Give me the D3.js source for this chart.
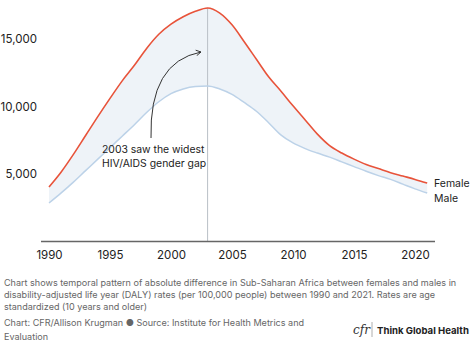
<!DOCTYPE html>
<html>
<head>
<meta charset="utf-8">
<script src="https://cdn.jsdelivr.net/npm/d3@7"></script>
<style>
  html, body { margin: 0; padding: 0; background: #fff; }
  svg { display: block; font-family: Inter, "Noto Sans", sans-serif; }
</style>
</head>
<body>
<svg id="chart" width="474" height="349"></svg>
<script>
const years = d3.range(1990, 2022);
const female = [4040, 5150, 6450, 7850, 9250, 10600, 11900, 13050, 14300, 15350,
  16100, 16650, 17050, 17300, 16920, 16050, 14800, 13500, 12200, 11150,
  10050, 9000, 7950, 7100, 6550, 6100, 5700, 5400, 5100, 4850, 4600, 4330];
const male = [2850, 3600, 4400, 5250, 6100, 6950, 7800, 8650, 9550, 10350,
  10950, 11300, 11480, 11520, 11300, 10900, 10300, 9650, 8800, 7900,
  7300, 6880, 6550, 6250, 5900, 5550, 5200, 4880, 4600, 4250, 3900, 3590];
const xTicks = [1990, 1995, 2000, 2005, 2010, 2015, 2020];
const yTicks = [5000, 10000, 15000];
const peakYear = 2003;
const annotation = ["2003 saw the widest", "HIV/AIDS gender gap"];
const caption = [
  "Chart shows temporal pattern of absolute difference in Sub-Saharan Africa between females and males in",
  "disability-adjusted life year (DALY) rates (per 100,000 people) between 1990 and 2021. Rates are age",
  "standardized (10 years and older)"
];
const source = ["Chart: CFR/Allison Krugman \u25CF Source: Institute for Health Metrics and", "Evaluation"];

const data = years.map((y, i) => ({ year: y, f: female[i], m: male[i] }));
const svg = d3.select("#chart");

const x = d3.scaleLinear().domain([1990, 2020]).range([49, 415]);
const y = d3.scaleLinear().domain([0, 15000]).range([241.5, 39]);

// band between series
svg.append("path")
  .datum(data)
  .attr("fill", "#eef3f8")
  .attr("d", d3.area().x(d => x(d.year)).y0(d => y(d.m)).y1(d => y(d.f)).curve(d3.curveMonotoneX));

// vertical line at peak
const pk = data.find(d => d.year === peakYear);
svg.append("line")
  .attr("x1", x(peakYear)).attr("x2", x(peakYear))
  .attr("y1", y(pk.f)).attr("y2", y(0))
  .attr("stroke", "#b9bfc6").attr("stroke-width", 1);

// lines
svg.append("path").datum(data)
  .attr("fill", "none").attr("stroke", "#bcd2e8").attr("stroke-width", 1.5)
  .attr("d", d3.line().x(d => x(d.year)).y(d => y(d.m)).curve(d3.curveMonotoneX));
svg.append("path").datum(data)
  .attr("fill", "none").attr("stroke", "#e8533a").attr("stroke-width", 1.6)
  .attr("d", d3.line().x(d => x(d.year)).y(d => y(d.f)).curve(d3.curveMonotoneX));

// x axis
const xAxis = svg.append("g").attr("transform", `translate(0,${y(0)})`)
  .call(d3.axisBottom(x).tickValues(xTicks).tickFormat(d3.format("d")).tickSize(0).tickPadding(9));
xAxis.select(".domain").remove();
xAxis.append("line").attr("x1", 41).attr("x2", 435).attr("stroke", "#666").attr("stroke-width", 1.5);
xAxis.selectAll("text").attr("font-size", 11.5).attr("fill", "#222").attr("font-family", "Inter, sans-serif");

// y axis
const yAxis = svg.append("g").attr("transform", "translate(37,0)")
  .call(d3.axisLeft(y).tickValues(yTicks).tickFormat(d3.format(",")).tickSize(0).tickPadding(0));
yAxis.select(".domain").remove();
yAxis.selectAll("text").attr("font-size", 11.5).attr("fill", "#222").attr("font-family", "Inter, sans-serif");

// series labels
const last = data[data.length - 1];
svg.append("text").attr("x", 434).attr("y", y(last.f)).attr("dy", "0.35em")
  .attr("font-size", 10.5).attr("fill", "#222").text("Female");
svg.append("text").attr("x", 434).attr("y", y(last.m) + 5).attr("dy", "0.35em")
  .attr("font-size", 10.5).attr("fill", "#222").text("Male");

// annotation
svg.append("defs").append("marker")
  .attr("id", "arr").attr("viewBox", "0 0 10 10").attr("refX", 8).attr("refY", 5)
  .attr("markerWidth", 7).attr("markerHeight", 7).attr("orient", "auto")
  .append("path").attr("d", "M1,1 L8,5 L1,9").attr("fill", "none").attr("stroke", "#333").attr("stroke-width", 1.3);
svg.append("path")
  .attr("d", "M151,138 Q149,62 201,52")
  .attr("fill", "none").attr("stroke", "#333").attr("stroke-width", 1)
  .attr("marker-end", "url(#arr)");
svg.append("text").attr("font-size", 10.4).attr("fill", "#222")
  .selectAll("tspan").data(annotation).join("tspan")
  .attr("x", 102).attr("y", (d, i) => 153 + i * 14).text(d => d);

// caption
svg.append("text").attr("font-size", 9.05).attr("fill", "#666")
  .selectAll("tspan").data(caption).join("tspan")
  .attr("x", 4).attr("y", (d, i) => 286 + i * 12).text(d => d);
svg.append("text").attr("font-size", 9.05).attr("fill", "#666")
  .selectAll("tspan").data(source).join("tspan")
  .attr("x", 4).attr("y", (d, i) => 326 + i * 14).text(d => d);

// logo
svg.append("text").attr("x", 353).attr("y", 334).attr("font-size", 12)
  .attr("font-family", "'DejaVu Serif', serif").attr("font-style", "italic").attr("fill", "#333").text("cfr");
svg.append("line").attr("x1", 372).attr("x2", 372).attr("y1", 322).attr("y2", 337)
  .attr("stroke", "#999").attr("stroke-width", 0.8);
svg.append("text").attr("x", 377).attr("y", 334).attr("font-size", 9.6).attr("font-weight", 700)
  .attr("fill", "#222").text("Think Global Health");
</script>
</body>
</html>
